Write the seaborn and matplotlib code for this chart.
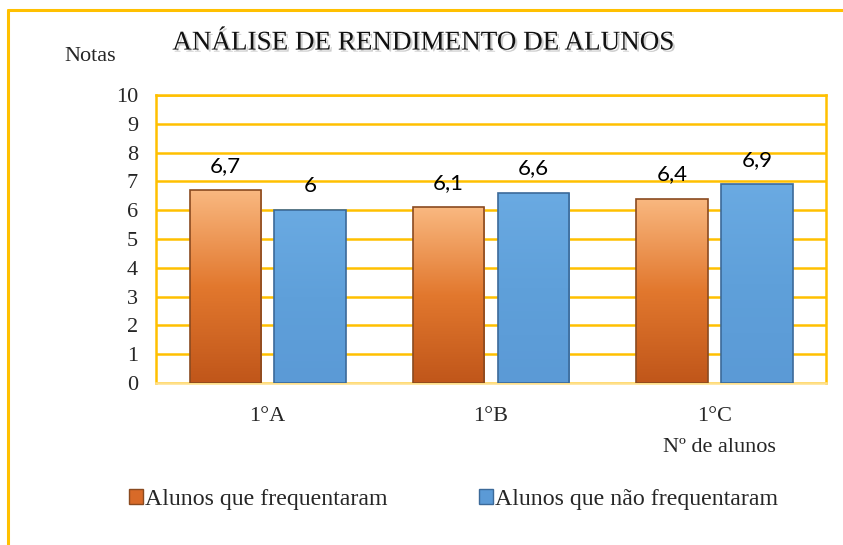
import numpy as np
import pandas as pd
import matplotlib
matplotlib.use("Agg")
import matplotlib.pyplot as plt
import matplotlib.patheffects as pe
from matplotlib.colors import LinearSegmentedColormap
from matplotlib.patches import Patch
from matplotlib.lines import Line2D
import seaborn as sns

#_____1. DATA_____
turmas = ["1°A", "1°B", "1°C"]
series_names = ["Alunos que frequentaram", "Alunos que não frequentaram"]
frequentaram = [6.7, 6.1, 6.4]
nao_frequentaram = [6.0, 6.6, 6.9]
value_labels = ["6,7", "6,1", "6,4", "6", "6,6", "6,9"]
y_ticks = list(range(0, 11))

df = pd.DataFrame({
    "turma": turmas * 2,
    "grupo": [series_names[0]] * 3 + [series_names[1]] * 3,
    "nota": frequentaram + nao_frequentaram,
})

#_____2. STYLE_____
GOLD = "#ffc000"
ORANGE_TOP = "#f9b880"
ORANGE_BOT = "#c0561a"
BLUE_TOP = "#6aaae2"
BLUE_BOT = "#5b9ad6"
SERIF = ["Liberation Serif", "DejaVu Serif"]
SANS = ["Lato", "DejaVu Sans"]

sns.set_theme(style="white")
plt.rcParams["font.family"] = SERIF

fig = plt.figure(figsize=(8.43, 5.45), dpi=100)
ax = fig.add_axes([0.185, 0.2972, 0.795, 0.5285])

sns.barplot(data=df, x="turma", y="nota", hue="grupo", order=turmas,
            hue_order=series_names, palette=[ORANGE_BOT, BLUE_BOT],
            width=0.76, gap=0.16, ax=ax, legend=False, zorder=3)

#_____3. GRADIENT FILL_____
grads = {
    0: LinearSegmentedColormap.from_list("og", [ORANGE_BOT, "#e2782e", ORANGE_TOP]),
    1: LinearSegmentedColormap.from_list("bg", [BLUE_BOT, "#5fa0da", BLUE_TOP]),
}
edges = {0: "#8a4a20", 1: "#3c6a99"}
bars = list(ax.patches)
for i, bar in enumerate(bars):
    s = i // 3
    x0, y0 = bar.get_x(), bar.get_y()
    w, h = bar.get_width(), bar.get_height()
    grad = np.linspace(0, 1, 256).reshape(-1, 1)
    im = ax.imshow(grad, cmap=grads[s], origin="lower", aspect="auto",
                   extent=[x0, x0 + w, y0, y0 + h], zorder=3)
    im.set_clip_path(bar)
    bar.set_facecolor("none")
    bar.set_edgecolor(edges[s])
    bar.set_linewidth(1.2)
    bar.set_zorder(4)
    ax.text(x0 + w / 2, y0 + h + 0.5, value_labels[i], ha="center", va="bottom",
            fontsize=16, family=SANS, color="#000000", zorder=5)

ax.set_xlim(-0.5, 2.5)
ax.set_ylim(0, 10)
ax.set_yticks(y_ticks)
ax.set_yticklabels([str(t) for t in y_ticks], fontsize=16)
ax.tick_params(axis="y", length=0, pad=13)
ax.tick_params(axis="x", length=0, pad=17, labelsize=16)
ax.set_xlabel("")
ax.set_ylabel("")
ax.grid(axis="y", color=GOLD, linewidth=1.8, zorder=0)
ax.set_axisbelow(True)
for sp in ax.spines.values():
    sp.set_visible(True)
    sp.set_color(GOLD)
    sp.set_linewidth(1.8)
ax.spines["bottom"].set_color("#ffe08a")

#_____4. TEXTS_____
fig.text(0.502, 0.921, "ANÁLISE DE RENDIMENTO DE ALUNOS", ha="center", va="center",
         fontsize=19.5, color="#111111",
         path_effects=[pe.SimplePatchShadow(offset=(1.5, -1.5), alpha=0.2), pe.Normal()])
fig.text(0.107, 0.897, "Notas", ha="center", va="center", fontsize=16)
fig.text(0.853, 0.178, "Nº de alunos", ha="center", va="center", fontsize=16)

handles = [Patch(facecolor="#d86a28", edgecolor=edges[0]),
           Patch(facecolor=BLUE_BOT, edgecolor=edges[1])]
fig.legend(handles, series_names, loc="center", bbox_to_anchor=(0.538, 0.083),
           ncol=2, frameon=False, fontsize=17.2, handlelength=0.6, handleheight=0.6,
           handletextpad=0.1, columnspacing=3.8)

#_____5. FRAME_____
fig.add_artist(Line2D([8 / 843, 1.0], [1 - 10 / 545] * 2, color=GOLD, lw=2.2,
                      transform=fig.transFigure))
fig.add_artist(Line2D([8 / 843] * 2, [0.0, 1 - 10 / 545], color=GOLD, lw=2.2,
                      transform=fig.transFigure))

fig.savefig("out.png", dpi=100, facecolor="white")
plt.close(fig)
